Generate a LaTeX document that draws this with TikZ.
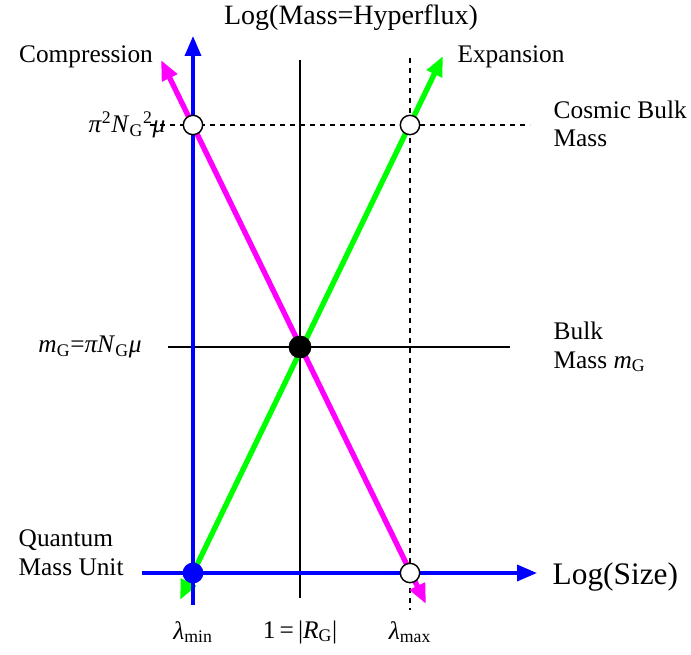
\documentclass[tikz,border=0pt]{standalone}
\usepackage{fontspec}
\setmainfont{Liberation Serif}
\usetikzlibrary{arrows.meta}
\begin{document}
\begin{tikzpicture}[x=0.75pt, y=-0.75pt, >={Triangle[length=15pt,width=12pt]},
  lbl/.style={font=\fontsize{19}{21.5}\selectfont, align=left},
  guide/.style={line width=1.2pt},
  dot/.style={circle, draw, line width=1.1pt, minimum size=14.5pt, inner sep=0pt, fill=white}]
  \useasboundingbox (0,0) rectangle (691,655);
  \definecolor{mag}{RGB}{255,0,255}
  \definecolor{lime}{RGB}{0,255,0}
  \foreach \n/\p in {ctop/{300,60}, cbot/{300,598}, mleft/{168,347}, mright/{510,347},
    dtop/{410,58}, dbot/{410,610}, dleft/{150,125}, dright/{530,125},
    ybot/{193,605}, ytop/{193,36}, xleft/{142,573}, xright/{537,573},
    ctail/{426,604}, chead/{161,60}, etail/{180,600}, ehead/{443,56}}
    \coordinate (\n) at (\p);
  \draw[guide] (ctop) -- (cbot);
  \draw[guide] (mleft) -- (mright);
  \draw[guide, dash pattern=on 4pt off 3.5pt] (dtop) -- (dbot);
  \draw[guide, dash pattern=on 4pt off 3.5pt] (dleft) -- (dright);
  \draw[<->, line width=4pt, mag] (ctail) -- (chead);
  \draw[<->, line width=4pt, lime] (etail) -- (ehead);
  \draw[->, line width=2.6pt, blue] (ybot) -- (ytop);
  \draw[->, line width=2.6pt, blue] (xleft) -- (xright);
  \node[dot] (cosL) at (193,125) {};
  \node[dot] (cosR) at (410,125) {};
  \node[dot] (lmax) at (410,573) {};
  \node[dot, fill=black, minimum width=16pt] (bulk) at (300,347) {};
  \node[dot, draw=blue, fill=blue] (quant) at (193,573) {};
  \node[font=\fontsize{21}{24}\selectfont] (yname) at (351,18) {Log(Mass=Hyperflux)};
  \node[lbl] (comp) at (86,57) {Compression};
  \node[lbl] (expa) at (511,57) {Expansion};
  \node[lbl, anchor=east] (mcos) at (170,125) {\textit{π}\textsuperscript{2}\textit{N}\textsubscript{G}\textsuperscript{2}\textit{μ}};
  \node[lbl] (mbulk) at (90,347) {\textit{m}\textsubscript{G}=\textit{πN}\textsubscript{G}\textit{μ}};
  \node[lbl, anchor=west] (qmu) at (14,553) {Quantum\\Mass Unit};
  \node[lbl, anchor=west] (cbm) at (549,124) {Cosmic Bulk\\Mass};
  \node[lbl, anchor=west] (bm) at (549,347) {Bulk\\Mass \textit{m}\textsubscript{G}};
  \node[font=\fontsize{23.5}{27}\selectfont, anchor=west] (xname) at (548,577) {Log(Size)};
  \node[lbl] (lmin) at (193,632) {\textit{λ}\textsubscript{min}};
  \node[lbl] (unit) at (300,632) {1\,=\,|\textit{R}\textsubscript{G}|};
  \node[lbl] (lmx) at (410,632) {\textit{λ}\textsubscript{max}};
\end{tikzpicture}
\end{document}
